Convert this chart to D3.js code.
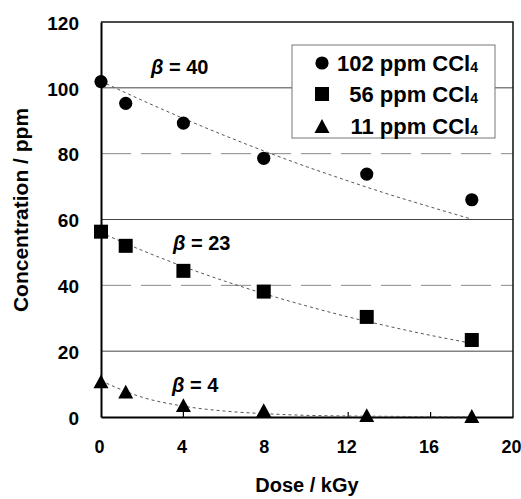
<!DOCTYPE html>
<html>
<head>
<meta charset="utf-8">
<script src="https://cdn.jsdelivr.net/npm/d3@7"></script>
<style>
  html, body { margin: 0; padding: 0; background: #fff; }
  svg { display: block; font-family: "Liberation Sans", Arial, Helvetica, sans-serif; font-weight: bold; }
</style>
</head>
<body>
<div id="chart"></div>
<script>
// Measured CCl4 concentrations (ppm) after irradiation at each dose (kGy)
const dose = [0, 1.2, 4, 7.9, 12.9, 18];
const conc102 = [101.9, 95.3, 89.3, 78.6, 73.8, 66.0];
const conc56 = [56.3, 52.0, 44.4, 38.1, 30.4, 23.4];
const conc11 = [10.8, 7.7, 3.6, 2.1, 0.6, 0.3];

// Fitted decay curves, sampled along the dose axis
const fitDose = [0, 2, 4, 6, 8, 10, 12, 14, 16, 18];
const fit102 = [102, 96.2, 90.7, 85.5, 80.6, 76.0, 71.7, 67.6, 63.8, 60.1];
const fit56 = [56, 50.6, 45.7, 41.3, 37.3, 33.7, 30.4, 27.5, 24.8, 22.4];
const fit11 = [11, 6.0, 3.3, 1.8, 1.0, 0.5, 0.3, 0.2, 0.1, 0.05];

const seriesNames = ["102 ppm CCl", "56 ppm CCl", "11 ppm CCl"];
const betaLabels = ["\u03B2 = 40", "\u03B2 = 23", "\u03B2 = 4"];
const xTicks = [0, 4, 8, 12, 16, 20];
const yTicks = [0, 20, 40, 60, 80, 100, 120];

const W = 521, H = 499;
const plotL = 101, plotR = 513, plotT = 22, plotB = 417;

const svg = d3.select("#chart").append("svg").attr("width", W).attr("height", H);

const x = d3.scaleLinear().domain([0, 20]).range([plotL, plotR]);
const y = d3.scaleLinear().domain([0, 120]).range([plotB, plotT]);

// horizontal gridlines
svg.append("g").selectAll("line")
  .data(yTicks.filter(v => v > 0 && v < 120))
  .join("line")
  .attr("x1", plotL).attr("x2", plotR)
  .attr("y1", d => y(d)).attr("y2", d => y(d))
  .attr("stroke", d => (d % 40 === 0) ? "#888" : "#444")
  .attr("stroke-width", 1)
  .attr("stroke-dasharray", d => (d % 40 === 0) ? "30,10" : null);

// frame (top and right)
svg.append("path")
  .attr("d", `M${plotL},${plotT}H${plotR}V${plotB}`)
  .attr("fill", "none").attr("stroke", "#111").attr("stroke-width", 1.5);

// axes
const xAxis = d3.axisBottom(x).tickValues(xTicks).tickSize(0).tickPadding(23);
const yAxis = d3.axisLeft(y).tickValues(yTicks).tickSize(0).tickPadding(22);

const gx = svg.append("g").attr("transform", `translate(0,${plotB})`).call(xAxis);
const gy = svg.append("g").attr("transform", `translate(${plotL},0)`).call(yAxis);
[gx, gy].forEach(g => {
  g.select(".domain").attr("stroke", "#000").attr("stroke-width", 2);
  g.selectAll("text").attr("font-weight", "bold")
    .attr("font-family", "Liberation Sans, Arial, sans-serif").attr("fill", "#000");
});
gy.selectAll("text").attr("font-size", 19).attr("dy", "0.38em");
gx.selectAll("text").attr("font-size", 18).attr("dy", "0.71em").attr("dx", -2);

// inner tick marks on dose axis
svg.append("g").selectAll("line")
  .data(xTicks.filter(v => v > 0 && v < 20))
  .join("line")
  .attr("x1", d => x(d)).attr("x2", d => x(d))
  .attr("y1", plotB).attr("y2", plotB - 5)
  .attr("stroke", "#000").attr("stroke-width", 1.2);

// axis titles
svg.append("text")
  .attr("x", (plotL + plotR) / 2).attr("y", 492)
  .attr("text-anchor", "middle").attr("font-size", 20)
  .text("Dose / kGy");
svg.append("text")
  .attr("transform", `translate(28,210) rotate(-90)`)
  .attr("text-anchor", "middle").attr("font-size", 21)
  .text("Concentration / ppm");

// fitted curves
const line = d3.line().x(d => x(d[0])).y(d => y(d[1])).curve(d3.curveMonotoneX);
[fit102, fit56, fit11].forEach(fit => {
  svg.append("path")
    .attr("d", line(fitDose.map((d, i) => [d, fit[i]])))
    .attr("fill", "none").attr("stroke", "#555")
    .attr("stroke-width", 1).attr("stroke-dasharray", "3,3");
});

// triangle centred on its bounding box
const boxTriangle = {
  draw(ctx, size) {
    const s = Math.sqrt(size);
    const h = s * 0.92;
    ctx.moveTo(0, -h / 2);
    ctx.lineTo(s / 2, h / 2);
    ctx.lineTo(-s / 2, h / 2);
    ctx.closePath();
  }
};

const symbols = [
  d3.symbol().type(d3.symbolCircle).size(Math.PI * 6.6 * 6.6),
  d3.symbol().type(d3.symbolSquare).size(14 * 14),
  d3.symbol().type(boxTriangle).size(15 * 15)
];

[conc102, conc56, conc11].forEach((vals, si) => {
  svg.append("g").selectAll("path")
    .data(vals)
    .join("path")
    .attr("transform", (d, i) => `translate(${x(dose[i])},${y(d)})`)
    .attr("d", symbols[si]())
    .attr("fill", "#000");
});

// beta labels
const betaPos = [[151, 74], [173, 250], [172, 392]];
betaLabels.forEach((t, i) => {
  const txt = svg.append("text")
    .attr("x", betaPos[i][0]).attr("y", betaPos[i][1])
    .attr("font-size", 20);
  txt.append("tspan").attr("font-style", "italic").text(t.slice(0, 1));
  txt.append("tspan").text(t.slice(1));
});

// legend
const lg = svg.append("g");
lg.append("rect")
  .attr("x", 292).attr("y", 45).attr("width", 203).attr("height", 93)
  .attr("fill", "#fff").attr("stroke", "#777").attr("stroke-width", 1);
const rows = [63, 94, 126];
seriesNames.forEach((name, i) => {
  lg.append("path")
    .attr("transform", `translate(322,${rows[i]})`)
    .attr("d", symbols[i]())
    .attr("fill", "#000");
  const t = lg.append("text")
    .attr("x", 478).attr("y", rows[i] + 8)
    .attr("text-anchor", "end").attr("font-size", 22);
  t.append("tspan").text(name);
  t.append("tspan").attr("font-size", 14).attr("dy", 1).text("4");
});
</script>
</body>
</html>
